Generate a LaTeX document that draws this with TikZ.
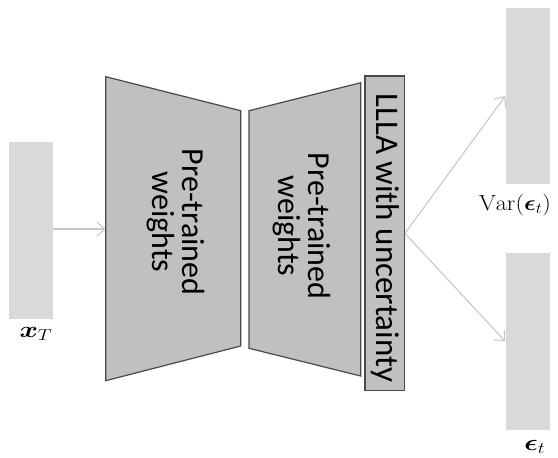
\documentclass[tikz,border=0pt]{standalone}
\usepackage{amsmath,bm}
\usepackage{graphicx}
\usepackage{fontspec}
\newfontfamily\handfont{Carlito}
\usetikzlibrary{arrows.meta}
\definecolor{blockfill}{HTML}{C0C0C0}
\definecolor{blockline}{HTML}{4A4A4A}
\definecolor{barfill}{HTML}{D9D9D9}
\definecolor{arrowgray}{HTML}{C8C8C8}
% math labels are set a little wider than natural
\newcommand{\widelabel}[1]{\scalebox{1.35}[1.1]{#1}}
\begin{document}
\begin{tikzpicture}[x=1pt,y=-1pt,
  bar/.style={fill=barfill, draw=none, minimum width=44pt, minimum height=177pt, inner sep=0pt},
  block/.style={fill=blockfill, draw=blockline, line width=1.2pt, line join=miter},
  blocktext/.style={font=\handfont\fontsize{32}{30}\selectfont, align=center, rotate=-90, inner sep=0pt},
  flow/.style={draw=arrowgray, line width=1.1pt, -{Straight Barb[length=8pt,width=14pt]}},
  mathlabel/.style={font=\huge, inner sep=0pt}]
\useasboundingbox (0,0) rectangle (558,458);

% tensors: input, variance and noise prediction
\node[bar] (xT) at (31,230.5) {};
\node[bar, minimum height=176pt] (varbar) at (527.5,96) {};
\node[bar] (epsbar) at (527.5,341.4) {};

% encoder and decoder halves of the network
\coordinate (encTL) at (105.7,76.7);
\coordinate (encTR) at (240.7,110.7);
\coordinate (encBR) at (240.7,346);
\coordinate (encBL) at (105.7,380.7);
\draw[block] (encTL) -- (encTR) -- (encBR) -- (encBL) -- cycle;
\coordinate (decTL) at (249,110.7);
\coordinate (decTR) at (360.7,82.7);
\coordinate (decBR) at (360.7,376);
\coordinate (decBL) at (249,348.3);
\draw[block] (decTL) -- (decTR) -- (decBR) -- (decBL) -- cycle;
\node[blocktext] (enctext) at (176,222) {Pre-trained\\weights};
\node[blocktext] (dectext) at (302,226) {Pre-trained\\weights};

% last-layer Laplace head
\node[block, minimum width=39.3pt, minimum height=314.7pt, inner sep=0pt] (llla) at (384.7,233.4) {};
\node[blocktext, font=\handfont\fontsize{33}{33}\selectfont] (lllatext) at (385,238) {LLLA with uncertainty};

% data flow
\coordinate (encin) at (105.7,229);
\draw[flow] (xT.east |- encin) -- (encin);
\draw[flow] (llla.east) -- (varbar.west);
\draw[flow] (llla.east) -- (epsbar.west);

% labels
\node[mathlabel] (lxT) at (36,334) {\widelabel{$\bm{x}_T$}};
\node[mathlabel] (lvar) at (515,205) {\scalebox{1.17}[1.05]{$\mathrm{Var}(\bm{\epsilon}_t)$}};
\node[mathlabel] (leps) at (535,447) {\widelabel{$\bm{\epsilon}_t$}};
\end{tikzpicture}
\end{document}
